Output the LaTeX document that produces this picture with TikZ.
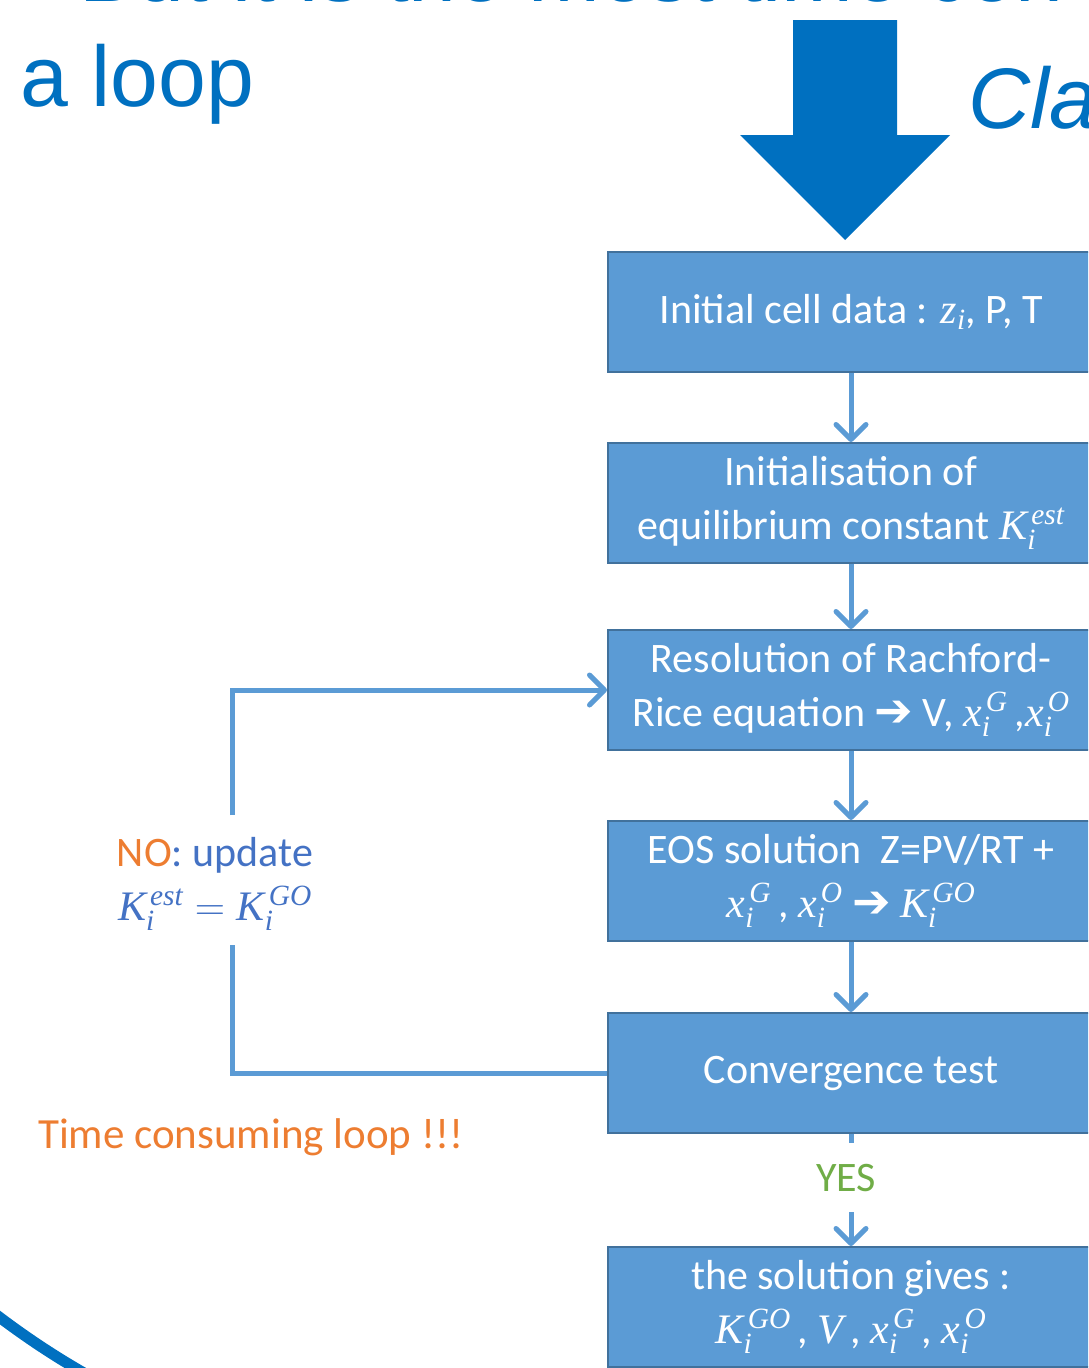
\documentclass[tikz,border=0pt]{standalone}
\usepackage{fix-cm}
\usepackage{fontspec}
\setmainfont{Carlito}
\newfontfamily\titlefont{Liberation Sans}
\newfontfamily\symfont{DejaVu Sans}
\newfontfamily\mathserif[NFSSFamily=libserif]{Liberation Serif}
\DeclareMathAlphabet{\camit}{TU}{libserif}{m}{it}
\usetikzlibrary{arrows.meta}

\definecolor{boxfill}{HTML}{5B9BD5}
\definecolor{boxline}{HTML}{41719C}
\definecolor{titleblue}{HTML}{0070C0}
\definecolor{txtblue}{HTML}{4472C4}
\definecolor{warnorange}{HTML}{ED7D31}
\definecolor{okgreen}{HTML}{70AD47}

\newcommand{\boxfont}{\fontsize{42}{54}\selectfont}
\newcommand{\bigtitle}{\titlefont\fontsize{86}{100}\selectfont}
\newcommand{\heavyarrow}{{\symfont\bfseries\fontsize{46}{54}\selectfont ➔}}
% italic serif variables with italic serif indices
\newcommand{\var}[3]{{\camit{#1}}_{\camit{#2}}^{\mkern2.5mu\camit{#3}}}

\tikzset{
  stepbox/.style={rectangle, fill=boxfill, draw=boxline, line width=2pt,
    minimum width=486pt, minimum height=120pt, inner sep=0pt,
    text=white, align=center, font=\boxfont},
  flowplain/.style={draw=boxfill, line width=5pt},
  flow/.style={flowplain, -{Straight Barb[length=15pt,width=30pt,round]}},
  titletext/.style={text=titleblue, font=\bigtitle, inner sep=0pt},
  notetext/.style={font=\boxfont, inner sep=0pt, align=center}
}

\begin{document}
\begin{tikzpicture}[x=1pt, y=-1pt]
  \path[use as bounding box, clip] (0,0) rectangle (1088,1368);

  % slide title lines
  \node[titletext, anchor=base west] (titleA) at (79,1.5) {But it is the most time con};
  \node[titletext, anchor=base west] (titleB) at (20,106) {a loop};
  \node[titletext, anchor=base west] (titleC) at (968,128) {\itshape Cla};

  % big downward arrow
  \fill[titleblue] (793,20) -- (897,20) -- (897,135) -- (950,135)
    -- (845,240) -- (740,135) -- (793,135) -- cycle;

  % process steps
  \node[stepbox] (init) at (851,312) {Initial cell data : $\camit{z}_{\camit{i}}$, P, T};
  \node[stepbox] (kest) at (851,503) {Initialisation of\\equilibrium constant $\var{K}{i}{est}$};
  \node[stepbox] (rr) at (851,690) {Resolution of Rachford-\\Rice equation \heavyarrow{} V, $\var{x}{i}{G}$\,,$\var{x}{i}{O}$};
  \node[stepbox] (eos) at (851,881) {EOS solution\ \ Z=PV/RT +\\$\var{x}{i}{G}$\,, $\var{x}{i}{O}$ \heavyarrow{} $\var{K}{i}{GO}$};
  \node[stepbox] (conv) at (851,1073) {Convergence test};
  \node[stepbox] (sol) at (851,1307) {the solution gives :\\$\var{K}{i}{GO}$\,, $\camit{V}$\,, $\var{x}{i}{G}$\,, $\var{x}{i}{O}$};

  % forward connectors
  \draw[flow] (init) -- (kest);
  \draw[flow] (kest) -- (rr);
  \draw[flow] (rr) -- (eos);
  \draw[flow] (eos) -- (conv);

  % convergence reached
  \node[notetext, text=okgreen] (yes) at (846,1178) {YES};
  \coordinate (yesTop) at (851,1143);
  \coordinate (yesBot) at (851,1212);
  \draw[flowplain] (conv.south) -- (yesTop);
  \draw[flow] (yesBot) -- (sol.north);

  % iteration loop back to the Rachford-Rice step
  \node[notetext, text=txtblue] (upd) at (215,884)
    {\textcolor{warnorange}{NO}: update\\$\var{K}{i}{est} = \var{K}{i}{GO}$};
  \coordinate (loopBot) at (232,945);
  \coordinate (loopTop) at (232,815);
  \draw[flowplain] (conv.west) -| (loopBot);
  \draw[flow] (loopTop) |- (rr.west);

  \node[notetext, text=warnorange, anchor=base west, font=\fontsize{43}{52}\selectfont]
    (warn) at (38,1148) {Time consuming loop !!!};

  % frame arc in the corner
  \draw[titleblue, line width=11pt] (-20,1302) .. controls (17.7,1332.3) and (57.7,1359) .. (100,1382);
\end{tikzpicture}
\end{document}
